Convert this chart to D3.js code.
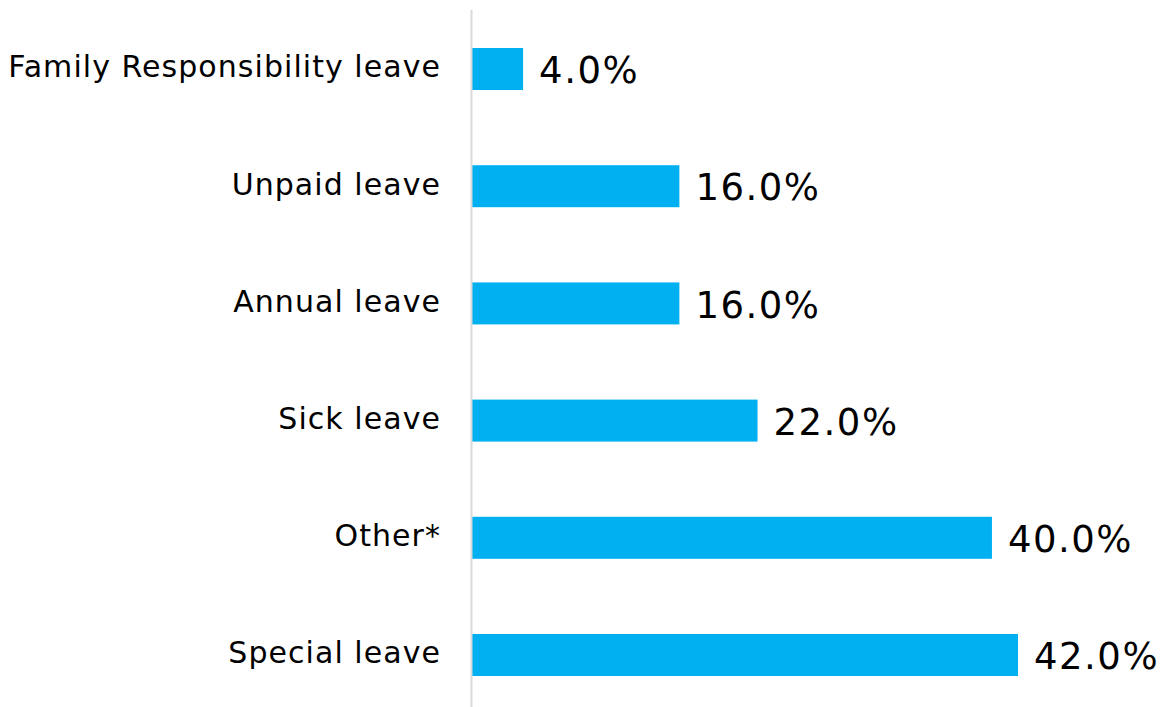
<!DOCTYPE html>
<html>
<head>
<meta charset="utf-8">
<script src="https://cdn.jsdelivr.net/npm/d3@7"></script>
<style>
  html, body { margin: 0; padding: 0; background: #fff; }
  svg { display: block; }
</style>
</head>
<body>
<svg id="chart" width="1172" height="707"></svg>
<script>
// Leave types, top to bottom, and the share of each
const categories = ["Family Responsibility leave", "Unpaid leave", "Annual leave", "Sick leave", "Other*", "Special leave"];
const values = [4.0, 16.0, 16.0, 22.0, 40.0, 42.0];

const width = 1172, height = 707;
const margin = { top: 17, right: 0, bottom: 0, left: 471 };

const svg = d3.select("#chart");
const font = "'DejaVu Sans', Verdana, sans-serif";

const x = d3.scaleLinear().domain([0, 42]).range([margin.left, 1018]);
const y = d3.scaleBand()
  .domain(categories)
  .range([margin.top, height])
  .paddingInner(0.6416)
  .paddingOuter(0.2645);

// bars
svg.append("g")
  .selectAll("rect")
  .data(categories)
  .join("rect")
  .attr("x", x(0) + 1)
  .attr("y", d => y(d))
  .attr("width", (d, i) => x(values[i]) - x(0) - 1)
  .attr("height", y.bandwidth())
  .attr("fill", "#00b0f0");

// category axis
const axis = svg.append("g")
  .attr("transform", `translate(${x(0)},0)`)
  .call(d3.axisLeft(y).tickSize(0).tickPadding(30));
axis.select(".domain")
  .attr("d", `M0.5,10V${height}`)
  .attr("stroke", "#d9d9d9")
  .attr("stroke-width", 2);
axis.selectAll("text")
  .attr("font-family", font)
  .attr("font-size", 30)
  .attr("letter-spacing", 1.05)
  .attr("dy", "0.28em")
  .attr("fill", "#000");

// value labels
svg.append("g")
  .selectAll("text")
  .data(categories)
  .join("text")
  .attr("x", (d, i) => x(values[i]) + 16)
  .attr("y", d => y(d) + y.bandwidth() / 2)
  .attr("dy", "0.385em")
  .attr("font-family", font)
  .attr("font-size", 37)
  .attr("letter-spacing", 1.5)
  .attr("fill", "#000")
  .text((d, i) => values[i].toFixed(1) + "%");
</script>
</body>
</html>
